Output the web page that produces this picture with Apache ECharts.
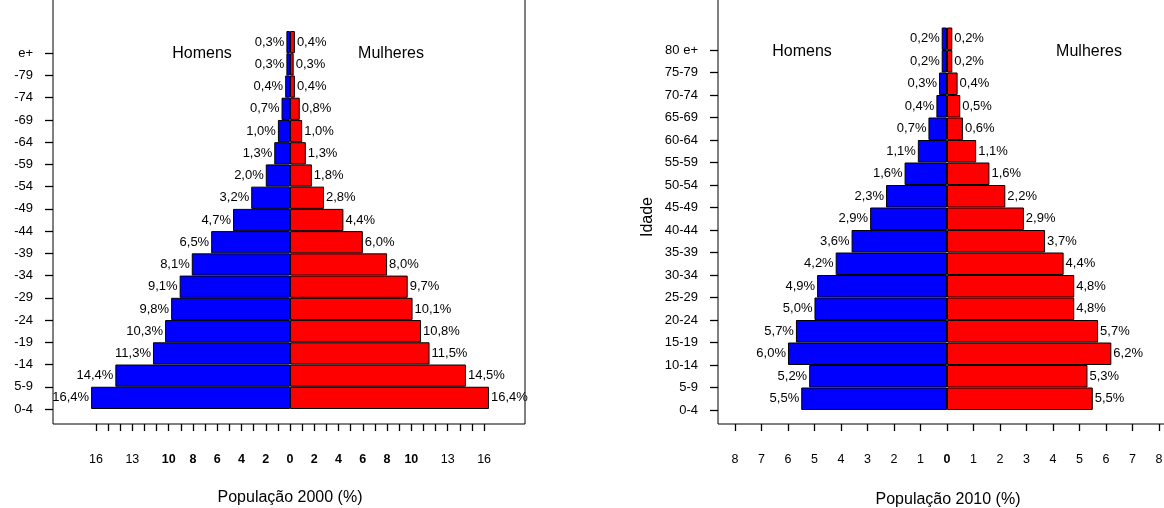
<!DOCTYPE html>
<html>
<head>
<meta charset="utf-8">
<script src="https://cdn.jsdelivr.net/npm/echarts@6/dist/echarts.min.js"></script>
<style>
html,body{margin:0;padding:0;background:#fff;}
#c{width:1164px;height:508px;}
</style>
</head>
<body>
<div id="c"></div>
<script>
const ages = ['0-4','5-9','10-14','15-19','20-24','25-29','30-34','35-39','40-44','45-49','50-54','55-59','60-64','65-69','70-74','75-79','80 e+'];
const men2000   = [16.4,14.4,11.3,10.3,9.8,9.1,8.1,6.5,4.7,3.2,2.0,1.3,1.0,0.7,0.4,0.3,0.3];
const women2000 = [16.4,14.5,11.5,10.8,10.1,9.7,8.0,6.0,4.4,2.8,1.8,1.3,1.0,0.8,0.4,0.3,0.4];
const men2010   = [5.5,5.2,6.0,5.7,5.0,4.9,4.2,3.6,2.9,2.3,1.6,1.1,0.7,0.4,0.3,0.2,0.2];
const women2010 = [5.5,5.3,6.2,5.7,4.8,4.8,4.4,3.7,2.9,2.2,1.6,1.1,0.6,0.5,0.4,0.2,0.2];
const ticks2000  = [-16,-15,-14,-13,-12,-11,-10,-9,-8,-7,-6,-5,-4,-3,-2,-1,0,1,2,3,4,5,6,7,8,9,10,11,12,13,14,15,16];
const labels2000 = [-16,-13,-10,-8,-6,-4,-2,0,2,4,6,8,10,13,16];
const bold2000   = [-10,-8,-6,-4,-2,0,2,4,6,8,10];
const ticks2010  = [-8,-7,-6,-5,-4,-3,-2,-1,0,1,2,3,4,5,6,7,8];
const labels2010 = [-8,-7,-6,-5,-4,-3,-2,-1,0,1,2,3,4,5,6,7,8];
const bold2010   = [0];
const ageTickPos = ages.map((a, i) => i);

const FONT = "'Liberation Sans', Arial, Helvetica, sans-serif";
const chart = echarts.init(document.getElementById('c'), null, {renderer: 'canvas'});

function fmtPct(p) { return Math.abs(p.value).toFixed(1).replace('.', ',') + '%'; }

function frameX(grid, min, max, ticks, labels, bold) {
  return {
    type: 'value', gridIndex: grid, min: min, max: max, position: 'bottom', offset: 3,
    axisLine: {show: false}, splitLine: {show: false},
    axisTick: {show: true, length: 7, customValues: ticks, lineStyle: {color: '#000', width: 1.3}},
    axisLabel: {
      show: true, customValues: labels, margin: 26, fontSize: 12.5, color: '#000', fontFamily: FONT,
      formatter: v => { const a = Math.abs(Math.round(v)); return bold.indexOf(Math.round(v)) >= 0 ? '{b|' + a + '}' : '' + a; },
      rich: {b: {fontWeight: 'bold', fontSize: 12.5, color: '#000', fontFamily: FONT}}
    }
  };
}
function hiddenX(grid, min, max) {
  return {type: 'value', gridIndex: grid, min: min, max: max, show: false, splitLine: {show: false}};
}
function labelY(grid) {
  return {
    type: 'value', gridIndex: grid, min: 0, max: 17, position: 'left',
    axisLine: {show: false}, splitLine: {show: false},
    axisTick: {show: true, length: 8, customValues: ageTickPos, lineStyle: {color: '#000', width: 1.3}},
    axisLabel: {show: true, customValues: ageTickPos, margin: 20, fontSize: 13, color: '#000', fontFamily: FONT,
      formatter: v => ages[Math.round(v)] || ''}
  };
}
function barSeries(x, y, data, color, pos) {
  return {
    type: 'bar', xAxisIndex: x, yAxisIndex: y, data: data, barCategoryGap: '0%', barGap: '-100%',
    itemStyle: {color: color, borderColor: '#000', borderWidth: 1},
    label: {show: true, position: pos, distance: 2, fontSize: 13, color: '#000', fontFamily: FONT, formatter: fmtPct},
    silent: true, animation: false
  };
}

const min2000 = -19.54, max2000 = 19.37;
const min2010 = -8.64, max2010 = 8.64;

const option = {
  animation: false,
  backgroundColor: '#fff',
  textStyle: {fontFamily: FONT},
  grid: [
    {left: 53, top: -10, width: 472, height: 434, show: true, borderColor: '#000', borderWidth: 1, backgroundColor: 'transparent', outerBoundsMode: 'none', containLabel: false},
    {left: 53, top: 31, width: 472, height: 378, show: false, outerBoundsMode: 'none', containLabel: false},
    {left: 718, top: -10, width: 458, height: 434, show: true, borderColor: '#000', borderWidth: 1, backgroundColor: 'transparent', outerBoundsMode: 'none', containLabel: false},
    {left: 718, top: 27.5, width: 458, height: 382.5, show: false, outerBoundsMode: 'none', containLabel: false}
  ],
  xAxis: [
    frameX(0, min2000, max2000, ticks2000, labels2000, bold2000),
    hiddenX(1, min2000, max2000),
    frameX(2, min2010, max2010, ticks2010, labels2010, bold2010),
    hiddenX(3, min2010, max2010)
  ],
  yAxis: [
    {type: 'value', gridIndex: 0, show: false, splitLine: {show: false}},
    {type: 'category', gridIndex: 1, data: ages, show: false, boundaryGap: true},
    labelY(1),
    {type: 'value', gridIndex: 2, show: false, splitLine: {show: false}},
    {type: 'category', gridIndex: 3, data: ages, show: false, boundaryGap: true},
    labelY(3)
  ],
  series: [
    barSeries(1, 1, men2000.map(v => -v), '#0000ff', 'left'),
    barSeries(1, 1, women2000, '#ff0000', 'right'),
    barSeries(3, 4, men2010.map(v => -v), '#0000ff', 'left'),
    barSeries(3, 4, women2010, '#ff0000', 'right')
  ],
  graphic: [
    {type: 'rect', shape: {x: 0, y: 0, width: 14, height: 440}, style: {fill: '#fff'}, z: 100, silent: true},
    {type: 'text', x: 202, y: 54, style: {text: 'Homens', font: '16px ' + FONT, fill: '#000', textAlign: 'center', textVerticalAlign: 'middle'}},
    {type: 'text', x: 391, y: 54, style: {text: 'Mulheres', font: '16px ' + FONT, fill: '#000', textAlign: 'center', textVerticalAlign: 'middle'}},
    {type: 'text', x: 290, y: 498, style: {text: 'População 2000 (%)', font: '16px ' + FONT, fill: '#000', textAlign: 'center', textVerticalAlign: 'middle'}},
    {type: 'text', x: 802, y: 52, style: {text: 'Homens', font: '16px ' + FONT, fill: '#000', textAlign: 'center', textVerticalAlign: 'middle'}},
    {type: 'text', x: 1089, y: 52, style: {text: 'Mulheres', font: '16px ' + FONT, fill: '#000', textAlign: 'center', textVerticalAlign: 'middle'}},
    {type: 'text', x: 948, y: 500, style: {text: 'População 2010 (%)', font: '16px ' + FONT, fill: '#000', textAlign: 'center', textVerticalAlign: 'middle'}},
    {type: 'text', x: 648, y: 217, rotation: Math.PI / 2, style: {text: 'Idade', font: '16px ' + FONT, fill: '#000', textAlign: 'center', textVerticalAlign: 'middle'}}
  ]
};
chart.setOption(option);
</script>
</body>
</html>
